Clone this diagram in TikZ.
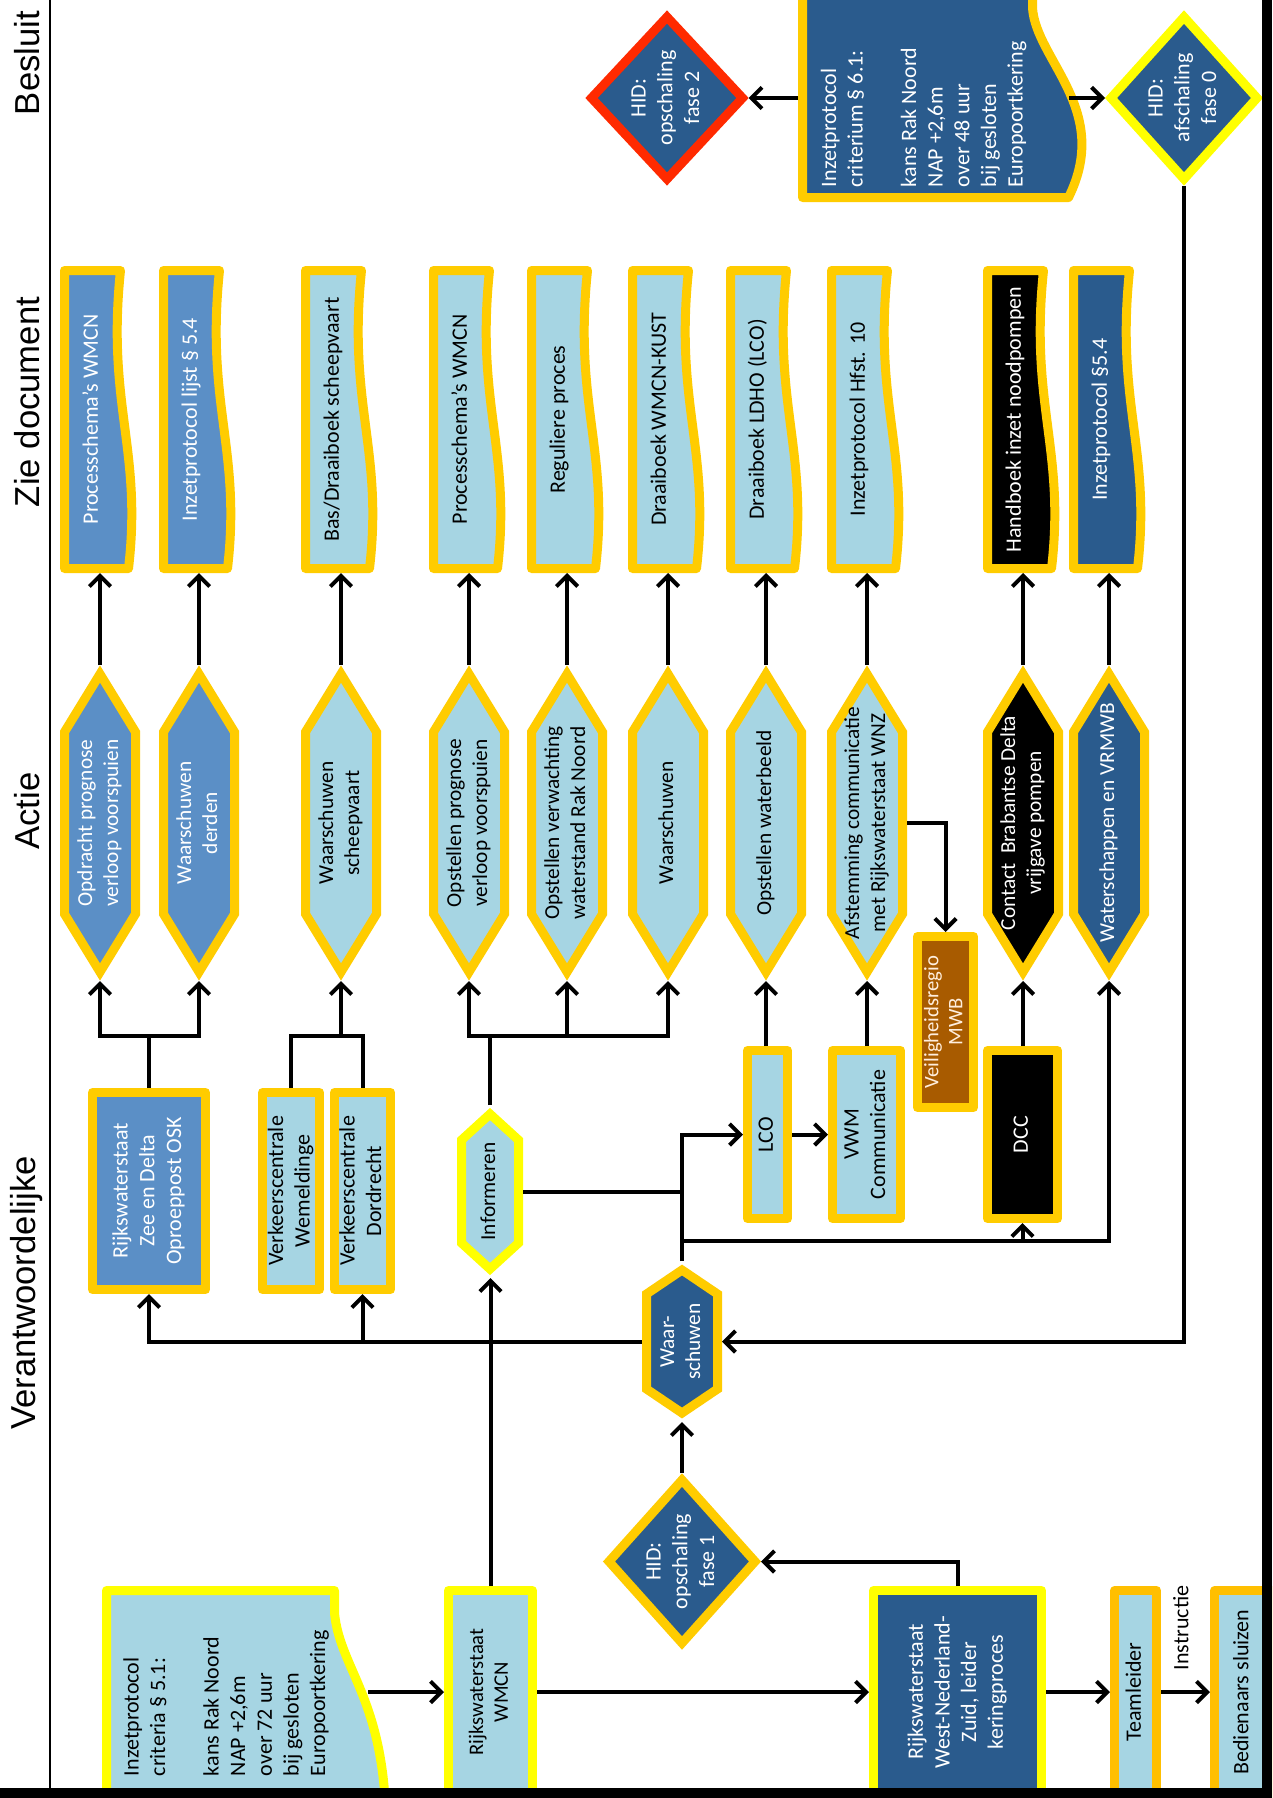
\documentclass[tikz,border=0pt]{standalone}
\usepackage{fontspec}
\setmainfont{Carlito}
\newfontfamily\hdrfont{Liberation Sans}
\usepackage{graphicx}
\usetikzlibrary{arrows.meta,calc}
\definecolor{gold}{HTML}{FFCC00}
\definecolor{goldtwo}{HTML}{FFBF00}
\definecolor{ylw}{HTML}{FFFF00}
\definecolor{redb}{HTML}{FF2A00}
\definecolor{lb}{HTML}{A6D5E3}
\definecolor{mb}{HTML}{5B8FC6}
\definecolor{db}{HTML}{2A5B8D}
\definecolor{brn}{HTML}{A85B00}
\definecolor{cream}{HTML}{FFEEDD}
\newcommand\uu{0.75pt}
\newcommand\rt[2][c]{\rotatebox{90}{\begin{tabular}{@{}#1@{}}#2\end{tabular}}}
\tikzset{
  txt/.style={inner sep=0pt, outer sep=0pt, font=\fontsize{16.5}{20}\selectfont},
  hexfont/.style={font=\fontsize{16}{19.5}\selectfont},
  boxn/.style={draw, line width=9*\uu, line join=round, inner sep=0pt, outer sep=4.5*\uu, font=\fontsize{16.5}{20}\selectfont},
  shp/.style={line width=9*\uu, line join=miter},
  ln/.style={line width=3pt},
  arr/.style={line width=3pt, -{Straight Barb[length=8pt,width=16pt]}},
  hdr/.style={inner sep=0pt, font=\hdrfont\fontsize{26}{30}\selectfont}
}
% hexagon: name, cx, cy, W, H, v, shape style, node style, text
\newcommand\hexa[9]{%
  \draw[shp,#7] (#2,{#3-#5/2+9}) -- ({#2+#4/2-4.5},{#3-#5/2+#6+2}) -- ({#2+#4/2-4.5},{#3+#5/2-#6-2}) -- (#2,{#3+#5/2-9}) -- ({#2-#4/2+4.5},{#3+#5/2-#6-2}) -- ({#2-#4/2+4.5},{#3-#5/2+#6+2}) -- cycle;
  \node[txt,hexfont,#8, minimum width=#4*\uu, minimum height=#5*\uu] (#1) at (#2,#3) {#9};}
% diamond: name, cx, cy, W, H, shape style, node style, text
\newcommand\diam[8]{%
  \draw[shp,#6] (#2,{#3-#5/2+7}) -- ({#2+#4/2-6},#3) -- (#2,{#3+#5/2-7}) -- ({#2-#4/2+6},#3) -- cycle;
  \node[txt,#7, minimum width=#4*\uu, minimum height=#5*\uu] (#1) at (#2,#3) {#8};}
% document: name, cx, shape style, node style, text
\newcommand\docu[5]{%
  \draw[shp,line join=round,#3] ({#2-35.5},270.5) -- ({#2+20.5},270.5) .. controls ({#2+6.5},404.6) and ({#2+42.5},449.3) .. ({#2+28.5},568.5) -- ({#2-35.5},568.5) -- cycle;
  \node[txt,#4, minimum width=65*\uu, minimum height=307*\uu] (#1) at ({#2-7.5},419.5) {#5};}
\begin{document}
\begin{tikzpicture}[x=0.75pt,y=-0.75pt]
\useasboundingbox (0,0) rectangle (1272,1798);
\fill[white] (0,0) rectangle (1272,1798);
\begin{scope}
\clip (0,0) rectangle (1272,1798);
% headers
\node[hdr] (hBes) at (27,63) {\rotatebox{90}{Besluit}};
\node[hdr] (hZie) at (27,402) {\rotatebox{90}{Zie document}};
\node[hdr] (hAct) at (27,811) {\rotatebox{90}{Actie}};
\node[hdr] (hVer) at (27,1293) {\rotatebox{90}{Verantwoordelijke}};
\draw[line width=2.2pt] (50,0) -- (50,1798);

% Besluit row
\draw[shp,line join=round,draw=gold,fill=db] (802.5,-20) -- (1032.5,-20) -- (1032.5,8) .. controls (1036,60) and (1112,110) .. (1068.5,197.5) -- (802.5,197.5) -- cycle;
\node[txt,anchor=south,text=white] (p61t) at (924,187) {\rt[l]{Inzetprotocol\\criterium § 6.1:\\ \\kans Rak Noord\\NAP +2,6m\\over 48 uur\\bij gesloten\\Europoortkering}};
\coordinate (p61l) at (798,98);
\coordinate (p61r) at (1069,98);
\diam{f2}{667}{98}{163}{176}{draw=redb,fill=db}{text=white}{\rt{HID:\\opschaling\\fase 2}}
\diam{f0}{1184}{98}{158}{176}{draw=ylw,fill=db}{text=white}{\rt{HID:\\afschaling\\fase 0}}

% Zie document row
\docu{d1}{100}{draw=gold,fill=mb}{text=white}{\rt{Processchema’s WMCN}}
\docu{d2}{199}{draw=gold,fill=mb}{text=white}{\rt{Inzetprotocol lijst § 5.4}}
\docu{d3}{341}{draw=gold,fill=lb}{}{\rt{Bas/Draaiboek scheepvaart}}
\docu{d4}{469}{draw=gold,fill=lb}{}{\rt{Processchema’s WMCN}}
\docu{d5}{567}{draw=gold,fill=lb}{}{\rt{Reguliere proces}}
\docu{d6}{668}{draw=gold,fill=lb}{}{\rt{Draaiboek WMCN-KUST}}
\docu{d7}{766}{draw=gold,fill=lb}{}{\rt{Draaiboek LDHO (LCO)}}
\docu{d8}{867}{draw=gold,fill=lb}{}{\rt{Inzetprotocol Hfst. 10}}
\docu{d9}{1023}{draw=gold,fill=black}{text=white}{\rt{Handboek inzet noodpompen}}
\docu{d10}{1109}{draw=gold,fill=db}{text=white}{\rt{Inzetprotocol §5.4}}

% Actie row
\hexa{a1}{100}{823}{80}{316}{65}{draw=gold,fill=mb}{text=white}{\rt{Opdracht prognose\\verloop voorspuien}}
\hexa{a2}{199}{823}{80}{316}{65}{draw=gold,fill=mb}{text=white}{\rt{Waarschuwen\\derden}}
\hexa{a3}{341}{823}{80}{316}{65}{draw=gold,fill=lb}{}{\rt{Waarschuwen\\scheepvaart}}
\hexa{a4}{469}{823}{80}{316}{65}{draw=gold,fill=lb}{}{\rt{Opstellen prognose\\verloop voorspuien}}
\hexa{a5}{567}{823}{80}{316}{65}{draw=gold,fill=lb}{}{\rt{Opstellen verwachting\\waterstand Rak Noord}}
\hexa{a6}{668}{823}{80}{316}{65}{draw=gold,fill=lb}{}{\rt{Waarschuwen}}
\hexa{a7}{766}{823}{80}{316}{65}{draw=gold,fill=lb}{}{\rt{Opstellen waterbeeld}}
\hexa{a8}{867}{823}{80}{316}{65}{draw=gold,fill=lb}{}{\rt{Afstemming communicatie\\met Rijkswaterstaat WNZ}}
\hexa{a9}{1023}{823}{80}{316}{65}{draw=gold,fill=black}{text=white}{\rt{Contact\ \ Brabantse Delta\\vrijgave pompen}}
\hexa{a10}{1109}{823}{80}{316}{65}{draw=gold,fill=db}{text=white}{\rt{Waterschappen en VRMWB}}

% Verantwoordelijke row
\node[boxn,draw=gold,fill=mb,text=white,minimum width=113*\uu,minimum height=197*\uu] (rz) at (149,1191) {\rt{Rijkswaterstaat\\Zee en Delta\\Oproeppost OSK}};
\node[boxn,draw=gold,fill=lb,minimum width=57*\uu,minimum height=197*\uu] (vw) at (291,1191) {\rt{Verkeerscentrale\\Wemeldinge}};
\node[boxn,draw=gold,fill=lb,minimum width=56*\uu,minimum height=197*\uu] (vd) at (362.5,1191) {\rt{Verkeerscentrale\\Dordrecht}};
\hexa{inf}{490}{1191.5}{66}{173}{33}{draw=ylw,fill=lb}{}{\rt{Informeren}}
\node[boxn,draw=gold,fill=lb,minimum width=40*\uu,minimum height=168*\uu] (lco) at (767.5,1134.5) {\rt{LCO}};
\node[boxn,draw=gold,fill=lb,minimum width=68*\uu,minimum height=168*\uu] (vwm) at (866.5,1134.5) {\rt{VWM\\Communicatie}};
\node[boxn,draw=gold,fill=brn,text=cream,minimum width=56*\uu,minimum height=171*\uu,font=\fontsize{15.5}{18}\selectfont] (vr) at (945.5,1022) {\rt{Veiligheidsregio\\MWB}};
\node[boxn,draw=gold,fill=black,text=white,minimum width=70*\uu,minimum height=168*\uu] (dcc) at (1022.5,1134.5) {\rt{DCC}};
\hexa{war}{682}{1341.5}{80}{161}{31}{draw=gold,fill=db}{text=white}{\rt{Waar-\\schuwen}}
\diam{f1}{682}{1561.5}{158}{177}{draw=gold,fill=db}{text=white}{\rt{HID:\\opschaling\\fase 1}}

% bottom boxes
\draw[shp,line join=round,draw=ylw,fill=lb] (106.5,1590.5) -- (334.5,1590.5) -- (334.5,1613) .. controls (340,1670) and (386,1700) .. (386,1830) -- (106.5,1830) -- cycle;
\node[txt,anchor=south] (p51t) at (226.5,1776) {\rt[l]{Inzetprotocol\\criteria § 5.1:\\ \\kans Rak Noord\\NAP +2,6m\\over 72 uur\\bij gesloten\\Europoortkering}};
\coordinate (p51r) at (368,1692);
\node[boxn,draw=ylw,fill=lb,minimum width=84*\uu,minimum height=203*\uu,font=\fontsize{15.5}{18.5}\selectfont] (wmcn) at (490.5,1692) {\rt{Rijkswaterstaat\\WMCN}};
\node[boxn,draw=ylw,fill=db,text=white,minimum width=168*\uu,minimum height=203*\uu] (wnz) at (957.5,1692) {\rt{Rijkswaterstaat\\West-Nederland-\\Zuid, leider\\keringproces}};
\node[boxn,draw=goldtwo,fill=lb,minimum width=42*\uu,minimum height=203*\uu] (tl) at (1135.5,1692) {\rt{Teamleider}};
\node[boxn,draw=goldtwo,fill=lb,minimum width=57*\uu,minimum height=203*\uu] (bs) at (1243,1692) {\rt{Bedienaars sluizen}};
\node[txt] (instr) at (1183,1628) {\rt{Instructie}};

% connectors: Actie -> Zie document
\foreach \i in {1,...,10} {\draw[arr] (a\i.north) -- (a\i.north |- d\i.south);}
% junctions
\coordinate (j1) at (149,1036);
\coordinate (j2) at (341,1036);
\coordinate (j3) at (490,1036);
\coordinate (j5) at (682,1241);
\draw[ln] (rz.north) -- (j1);
\draw[arr] (j1) -| (a1.south);
\draw[arr] (j1) -| (a2.south);
\draw[ln] (vw.north) |- (j2) -| (vd.north);
\draw[arr] (j2) -- (a3.south);
\draw[ln] (inf.north) -- (j3);
\draw[arr] (j3) -| (a4.south);
\draw[arr] (j3) -| (a6.south);
\draw[arr] (a5.south |- j3) -- (a5.south);
\draw[arr] (a7.south |- lco.north) -- (a7.south);
\draw[arr] (a8.south |- vwm.north) -- (a8.south);
\draw[arr] (a9.south |- dcc.north) -- (a9.south);
\draw[arr] (a8.east) -| (vr.north);
\draw[arr] (war.north) |- (lco.west);
\draw[arr] (lco.east) -- (vwm.west);
\draw[ln] (inf.east) -- (inf.east -| war.north);
\draw[arr] (j5) -| (a10.south);
\draw[arr] (dcc.south |- j5) -- (dcc.south);
\draw[arr] (war.west) -| (rz.south);
\draw[arr] (war.west -| vd.south) -- (vd.south);
\draw[arr] (wmcn.north) -- (wmcn.north |- inf.south);
\draw[arr] (f1.north) -- (war.south);
\draw[arr] (f0.south) |- (war.east);
\draw[arr] (wnz.north) |- (f1.east);
\draw[arr] (p51r) -- (wmcn.west);
\draw[arr] (wmcn.east) -- (wnz.west);
\draw[arr] (wnz.east) -- (tl.west);
\draw[arr] (tl.east) -- (bs.west);
\draw[arr] (p61l) -- (f2.east);
\draw[arr] (p61r) -- (f0.west);
\end{scope}
% frame
\fill[black] (1262,0) rectangle (1272,1798);
\fill[black] (0,1788) rectangle (1272,1798);
\end{tikzpicture}
\end{document}
